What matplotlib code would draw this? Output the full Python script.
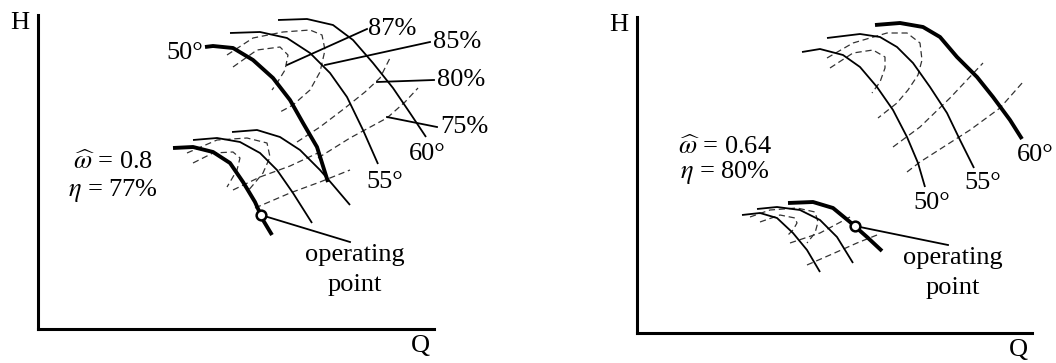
import matplotlib.pyplot as plt

plt.rcParams['font.family'] = 'Liberation Serif'
plt.rcParams['mathtext.fontset'] = 'stix'

# ---- left panel: omega = 0.8 (Q, H in arbitrary chart units) ----
L_50 = [(167, 282), (175, 283), (195, 281), (215, 269), (235, 251), (252, 229), (265, 206), (279, 182), (290, 147)]
L_55 = [(192, 296), (222, 297), (249, 291), (272, 276), (292, 256), (309, 232), (325, 199), (340, 165)]
L_60 = [(240, 309), (269, 310), (295, 304), (315, 289), (335, 266), (355, 241), (372, 216), (388, 192)]
L_eff85 = [(189, 274), (215, 291), (245, 297), (272, 299), (284, 294), (287, 279), (282, 257), (272, 239), (255, 224), (242, 217)]
L_eff87 = [(195, 262), (219, 279), (242, 282), (250, 274), (247, 259), (239, 246), (234, 239)]
L_eff80 = [(259, 187), (282, 202), (307, 221), (327, 237), (342, 251), (352, 271)]
L_eff75 = [(280, 171), (312, 191), (349, 211), (367, 227), (380, 241)]

L_small_thick = [(135, 181), (155, 182), (175, 177), (192, 166), (205, 147), (217, 127), (225, 109), (234, 94)]
L_small_mid = [(155, 189), (179, 191), (202, 187), (222, 176), (239, 159), (255, 136), (274, 106)]
L_small_right = [(194, 197), (219, 199), (242, 192), (262, 179), (282, 159), (295, 144), (312, 124)]
L_small_outer = [(149, 176), (179, 189), (209, 191), (229, 186), (232, 172), (225, 156), (215, 144), (209, 137)]
L_small_inner = [(155, 166), (175, 176), (195, 177), (202, 171), (199, 159), (192, 147), (189, 142)]
L_small_a = [(195, 139), (222, 152), (252, 163), (282, 177)]
L_small_b = [(217, 121), (252, 136), (282, 147), (312, 159)]
L_op = (223, 114)

# efficiency labels: text position and the end of its leader line
L_eff_labels = ['87%', '85%', '80%', '75%']
L_eff_text = [(354, 300), (395, 287), (399, 249), (402, 202)]
L_eff_leader = [(249, 264), (287, 264), (339, 247), (349, 212)]

# ---- right panel: omega = 0.64 ----
R_60 = [(238, 308), (263, 310), (286, 306), (303, 296), (320, 276), (340, 256), (356, 236), (373, 213), (385, 194)]
R_55 = [(190, 295), (223, 299), (243, 296), (260, 286), (276, 270), (293, 246), (310, 220), (323, 193), (337, 165)]
R_50 = [(165, 281), (183, 284), (206, 278), (223, 266), (240, 246), (256, 223), (270, 196), (281, 170), (288, 146)]
R_outer = [(190, 275), (216, 290), (250, 300), (270, 300), (283, 290), (285, 273), (281, 258), (271, 243), (260, 230), (241, 215)]
R_inner = [(193, 265), (216, 280), (236, 283), (248, 276), (248, 265), (243, 251), (235, 240)]
R_line1 = [(256, 186), (283, 206), (313, 235), (346, 270)]
R_line2 = [(270, 161), (283, 171), (333, 203), (363, 225), (386, 251)]

R_small_thick = [(151, 130), (176, 131), (196, 125), (213, 111), (230, 96), (245, 82)]
R_small_mid = [(120, 124), (140, 126), (163, 123), (183, 113), (200, 96), (216, 70)]
R_small_left = [(105, 118), (123, 120), (140, 115), (156, 100), (170, 83), (183, 61)]
R_small_outer = [(113, 116), (133, 123), (160, 125), (178, 121), (181, 111), (178, 100), (170, 90)]
R_small_inner = [(123, 111), (143, 118), (158, 115), (160, 110), (156, 103), (151, 98)]
R_small_a = [(153, 90), (183, 100), (213, 116)]
R_small_b = [(170, 68), (193, 78), (220, 90), (240, 98)]
R_op = (218, 107)

FS = 19
DASH = (0, (5, 3))


def curve(ax, pts, lw=1.3, ls='-', color='black'):
    q, h = zip(*pts)
    ax.plot(q, h, color=color, lw=lw, ls=ls, solid_capstyle='butt', clip_on=False)


def dashed(ax, pts):
    curve(ax, pts, lw=0.9, ls=DASH, color='#333333')


def setup(ax, xmax, ymax):
    ax.set_xlim(0, xmax)
    ax.set_ylim(0, ymax)
    for s in ['top', 'right']:
        ax.spines[s].set_visible(False)
    for s in ['left', 'bottom']:
        ax.spines[s].set_linewidth(2.2)
    ax.set_xticks([])
    ax.set_yticks([])
    ax.patch.set_alpha(0)
    ax.text(-18, ymax - 8, 'H', fontsize=FS, ha='center', va='center')
    ax.text(xmax - 14, -17, 'Q', fontsize=FS, ha='center', va='center')


def op_point(ax, pt, text_at):
    ax.plot([pt[0], text_at[0] - 5], [pt[1], text_at[1] + 13], color='black', lw=1.3, zorder=4)
    ax.plot(*pt, 'o', ms=7, mfc='white', mec='black', mew=1.8, zorder=5)
    ax.text(text_at[0], text_at[1], 'operating', fontsize=FS, ha='center', va='center')
    ax.text(text_at[0], text_at[1] - 30, 'point', fontsize=FS, ha='center', va='center')


fig = plt.figure(figsize=(10.56, 3.63), dpi=100)
axL = fig.add_axes([38 / 1056, 34 / 363, 396 / 1056, 314 / 363])
axR = fig.add_axes([637 / 1056, 30 / 363, 395 / 1056, 316 / 363])
setup(axL, 396, 314)
setup(axR, 395, 316)

# left panel
for pts in [L_eff85, L_eff87, L_eff80, L_eff75, L_small_outer, L_small_inner, L_small_a, L_small_b]:
    dashed(axL, pts)
curve(axL, L_50, lw=2.8)
curve(axL, L_55)
curve(axL, L_60)
curve(axL, L_small_thick, lw=2.8)
curve(axL, L_small_mid)
curve(axL, L_small_right)
for lab, tp, lp in zip(L_eff_labels, L_eff_text, L_eff_leader):
    if lab == '87%':
        axL.plot([lp[0], tp[0] - 25], [lp[1], tp[1]], color='black', lw=1.3, clip_on=False)
        axL.text(tp[0], tp[1], lab, fontsize=FS, ha='center', va='center')
    else:
        axL.plot([lp[0], tp[0] - 3], [lp[1], tp[1]], color='black', lw=1.3, clip_on=False)
        axL.text(tp[0], tp[1], lab, fontsize=FS, ha='left', va='center')
axL.text(165, 276, '50°', fontsize=FS, ha='right', va='center')
axL.text(347, 147, '55°', fontsize=FS, ha='center', va='center')
axL.text(389, 175, '60°', fontsize=FS, ha='center', va='center')
axL.text(35, 167, r'$\widehat{\omega}$ = 0.8', fontsize=FS, ha='left', va='center')
axL.text(30, 139, r'$\eta$ = 77%', fontsize=FS, ha='left', va='center')
op_point(axL, L_op, (317, 74))

# right panel
for pts in [R_outer, R_inner, R_line1, R_line2, R_small_outer, R_small_inner, R_small_a, R_small_b]:
    dashed(axR, pts)
curve(axR, R_60, lw=2.8)
curve(axR, R_55)
curve(axR, R_50)
curve(axR, R_small_thick, lw=2.8)
curve(axR, R_small_mid)
curve(axR, R_small_left)
axR.text(398, 178, '60°', fontsize=FS, ha='center', va='center')
axR.text(346, 150, '55°', fontsize=FS, ha='center', va='center')
axR.text(295, 130, '50°', fontsize=FS, ha='center', va='center')
axR.text(41, 186, r'$\widehat{\omega}$ = 0.64', fontsize=FS, ha='left', va='center')
axR.text(43, 160, r'$\eta$ = 80%', fontsize=FS, ha='left', va='center')
op_point(axR, R_op, (316, 75))

fig.savefig('out.png', dpi=100)
